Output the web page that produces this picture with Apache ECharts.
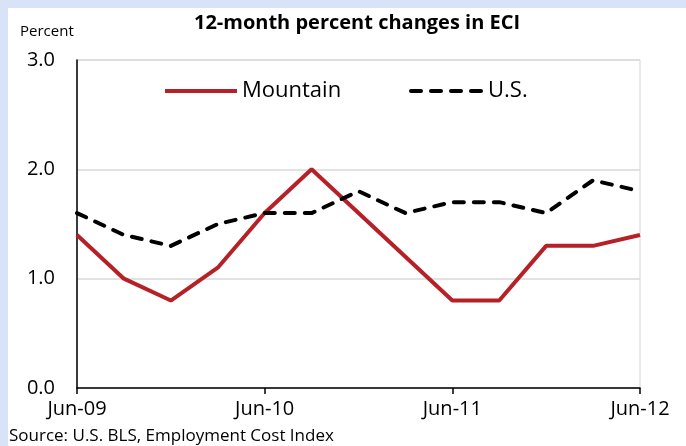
<!DOCTYPE html>
<html>
<head>
<meta charset="utf-8">
<script src="https://cdn.jsdelivr.net/npm/echarts@6/dist/echarts.min.js"></script>
<style>
  html, body { margin: 0; padding: 0; }
  #chart { width: 686px; height: 446px; }
</style>
</head>
<body>
<div id="chart"></div>
<script>
// quarterly, Jun-09 .. Jun-12
var quarters = ['Jun-09', 'Sep-09', 'Dec-09', 'Mar-10', 'Jun-10', 'Sep-10', 'Dec-10',
                'Mar-11', 'Jun-11', 'Sep-11', 'Dec-11', 'Mar-12', 'Jun-12'];
var mountain = [1.4, 1.0, 0.8, 1.1, 1.6, 2.0, 1.6, 1.2, 0.8, 0.8, 1.3, 1.3, 1.4];
var us = [1.6, 1.4, 1.3, 1.5, 1.6, 1.6, 1.8, 1.6, 1.7, 1.7, 1.6, 1.9, 1.8];
var yTicks = [0, 1, 2, 3];

var font = "'Open Sans', sans-serif";
var chart = echarts.init(document.getElementById('chart'));

var legendBase = {
    itemWidth: 72, itemHeight: 4, itemGap: 8,
    lineStyle: { width: 4 },
    itemStyle: { opacity: 0 },
    textStyle: { fontFamily: font, fontSize: 22, color: '#000' }
};

var option = {
    backgroundColor: '#d9e3f8',
    animation: false,
    textStyle: { fontFamily: font, color: '#000' },
    title: {
        text: '12-month percent changes in ECI',
        left: 352, top: 8,
        textAlign: 'center',
        textStyle: { fontFamily: font, fontSize: 20, fontWeight: 'bold', color: '#000' }
    },
    graphic: [
        { type: 'rect', z: -10, shape: { x: 8, y: 8, width: 678, height: 438 }, style: { fill: '#fff' } },
        { type: 'text', left: 20, top: 24, style: { text: 'Percent', font: '15px ' + font, fill: '#000' } },
        { type: 'text', left: 9, top: 428, style: { text: 'Source: U.S. BLS, Employment Cost Index', font: '17px ' + font, fill: '#000' } }
    ],
    legend: [
        Object.assign({ data: ['Mountain'], left: 158, top: 75 }, legendBase),
        Object.assign({ data: ['U.S.'], left: 404, top: 75 }, legendBase)
    ],
    grid: {
        left: 77, right: 46, top: 60, bottom: 58,
        show: true, borderColor: '#d4d4d4', borderWidth: 1
    },
    xAxis: {
        type: 'category',
        data: quarters,
        boundaryGap: false,
        axisLine: { lineStyle: { color: '#000', width: 1.5 } },
        axisTick: { interval: 3, length: 6, lineStyle: { color: '#000', width: 1.5 } },
        axisLabel: { interval: 3, margin: 11, fontSize: 20, color: '#000', fontFamily: font },
        splitLine: { show: false }
    },
    yAxis: {
        type: 'value',
        min: yTicks[0], max: yTicks[yTicks.length - 1], interval: 1,
        axisLine: { show: true, lineStyle: { color: '#000', width: 1.5 } },
        axisTick: { show: false },
        axisLabel: {
            margin: 22, fontSize: 20, color: '#000', fontFamily: font,
            formatter: function (v) { return v.toFixed(1); }
        },
        splitLine: { lineStyle: { color: '#d9d9d9', width: 1.5 } }
    },
    series: [
        {
            name: 'Mountain', type: 'line', data: mountain,
            symbol: 'none',
            color: '#b52127',
            lineStyle: { color: '#b52127', width: 4 }
        },
        {
            name: 'U.S.', type: 'line', data: us,
            symbol: 'none',
            color: '#000',
            lineStyle: { color: '#000', width: 4, type: [10, 10], cap: 'round' }
        }
    ]
};

chart.setOption(option);
</script>
</body>
</html>
